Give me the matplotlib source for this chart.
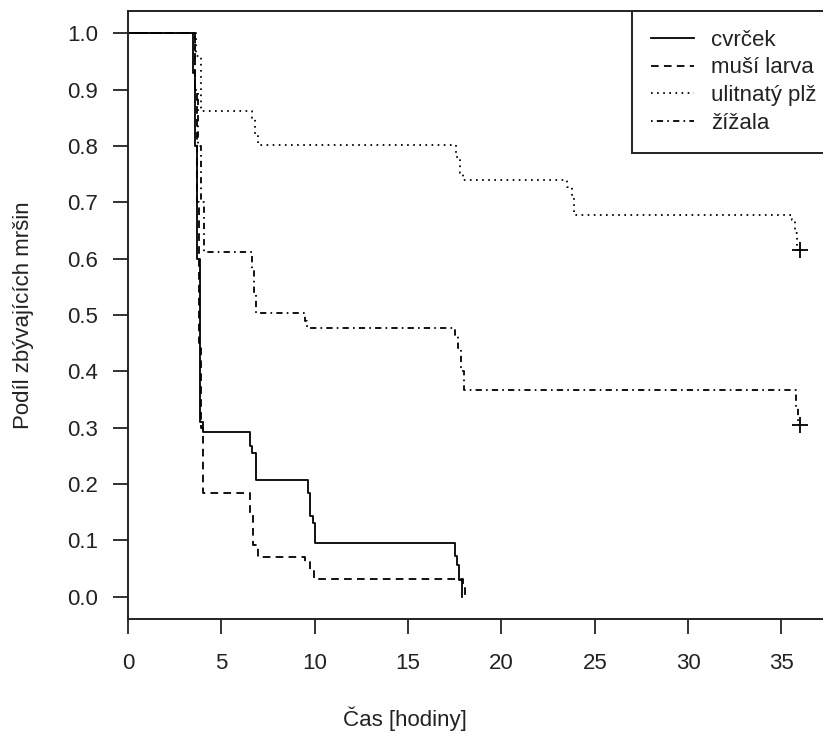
import matplotlib
matplotlib.use("Agg")
import matplotlib.pyplot as plt

plt.rcParams['font.family'] = ['Liberation Sans', 'DejaVu Sans']
plt.rcParams['lines.scale_dashes'] = False

# Kaplan-Meier style step data (time in hours, proportion remaining)
cvrcek_t = [0, 3.5, 3.6, 3.7, 3.85, 4.0, 6.53, 6.66, 6.86, 9.66, 9.75, 9.89, 10.0, 17.51, 17.64, 17.75, 17.87]
cvrcek_s = [1.0, 0.93, 0.80, 0.60, 0.31, 0.293, 0.268, 0.255, 0.2076, 0.184, 0.1425, 0.131, 0.0953, 0.0716, 0.057, 0.030, 0.0]

larva_t = [0, 3.6, 3.7, 3.8, 3.9, 4.0, 6.53, 6.71, 6.95, 9.48, 9.75, 9.96, 17.93, 18.07]
larva_s = [1.0, 0.90, 0.70, 0.45, 0.30, 0.184, 0.1455, 0.092, 0.0698, 0.062, 0.045, 0.031, 0.015, 0.0]

plz_t = [0, 3.65, 3.9, 6.62, 6.8, 6.98, 17.57, 17.8, 17.96, 23.5, 23.76, 23.89, 35.55, 35.7, 35.85, 36.0]
plz_s = [1.0, 0.96, 0.863, 0.85, 0.817, 0.802, 0.78, 0.752, 0.740, 0.728, 0.710, 0.678, 0.669, 0.645, 0.616, 0.616]

zizala_t = [0, 3.6, 3.75, 3.9, 4.05, 6.62, 6.75, 6.86, 9.48, 9.57, 17.51, 17.69, 17.82, 18.0, 35.8, 35.9, 36.0]
zizala_s = [1.0, 0.90, 0.80, 0.70, 0.612, 0.58, 0.54, 0.503, 0.49, 0.477, 0.465, 0.441, 0.40, 0.367, 0.335, 0.305, 0.305]

censor_t = [36.0, 36.0]
censor_s = [0.616, 0.305]

labels = ['cvrček', 'muší larva', 'ulitnatý plž', 'žížala']
x_ticks = [0, 5, 10, 15, 20, 25, 30, 35]
y_ticks = [0.0, 0.1, 0.2, 0.3, 0.4, 0.5, 0.6, 0.7, 0.8, 0.9, 1.0]

W, H = 823, 742
fig = plt.figure(figsize=(W / 100, H / 100), dpi=100)

# axes geometry in pixels
x0px, ppu = 128.0, 18.67
x1px = 880.0
xmax = (x1px - x0px) / ppu
ytop_px, ybot_px = 10.8, 619.3
ax = fig.add_axes([x0px / W, 1 - ybot_px / H, (x1px - x0px) / W, (ybot_px - ytop_px) / H])
ax.set_xlim(0, xmax)
ax.set_ylim(-0.04, 1.04)

lw = 1.3
styles = ['-', (0, (5.5, 3.8)), (0, (1.2, 3.2)), (0, (1.2, 3, 4.5, 3))]
series = [(cvrcek_t, cvrcek_s), (larva_t, larva_s), (plz_t, plz_s), (zizala_t, zizala_s)]
handles = []
for (t, s), ls, lab in zip(series, styles, labels):
    h, = ax.plot(t, s, drawstyle='steps-post', color='black', lw=lw, linestyle=ls, label=lab)
    handles.append(h)

ax.plot(censor_t, censor_s, linestyle='none', marker='+', markersize=12, mew=1.3, color='black')

fs = 16
ax.set_xticks(x_ticks)
ax.set_yticks(y_ticks)
ax.set_xticklabels([str(v) for v in x_ticks])
ax.set_yticklabels([f"{v:.1f}" for v in y_ticks])
ax.tick_params(axis='both', length=10.5, width=1.3, labelsize=fs, color='#222222', labelcolor='#222222')
ax.tick_params(axis='x', pad=14)
ax.tick_params(axis='y', pad=11)
for sp in ax.spines.values():
    sp.set_linewidth(1.4)
    sp.set_color('#222222')

ax.set_xlabel('Čas [hodiny]', fontsize=fs, color='#222222')
ax.set_ylabel('Podíl zbývajících mršin', fontsize=fs, color='#222222')
axw = x1px - x0px
axh = ybot_px - ytop_px
ax.xaxis.label.set_va('center')
ax.xaxis.set_label_coords((405 - x0px) / axw, -(719 - ybot_px) / axh)
ax.yaxis.label.set_va('center')
ax.yaxis.set_label_coords((24 - x0px) / axw, (ybot_px - 315) / axh)

# legend box: left edge at x=632, top at axes top, extends past the right edge
leg_left = (632 - x0px) / axw
leg = ax.legend(handles=handles, loc='upper left', bbox_to_anchor=(leg_left, 1.0),
                fontsize=fs, frameon=True, fancybox=False, edgecolor='#222222',
                framealpha=1, borderaxespad=0, borderpad=0.85, handlelength=1.95,
                handletextpad=0.75, labelspacing=0.30)
leg.get_frame().set_linewidth(1.4)
for txt in leg.get_texts():
    txt.set_color('#222222')

fig.savefig('out.png', dpi=100)
